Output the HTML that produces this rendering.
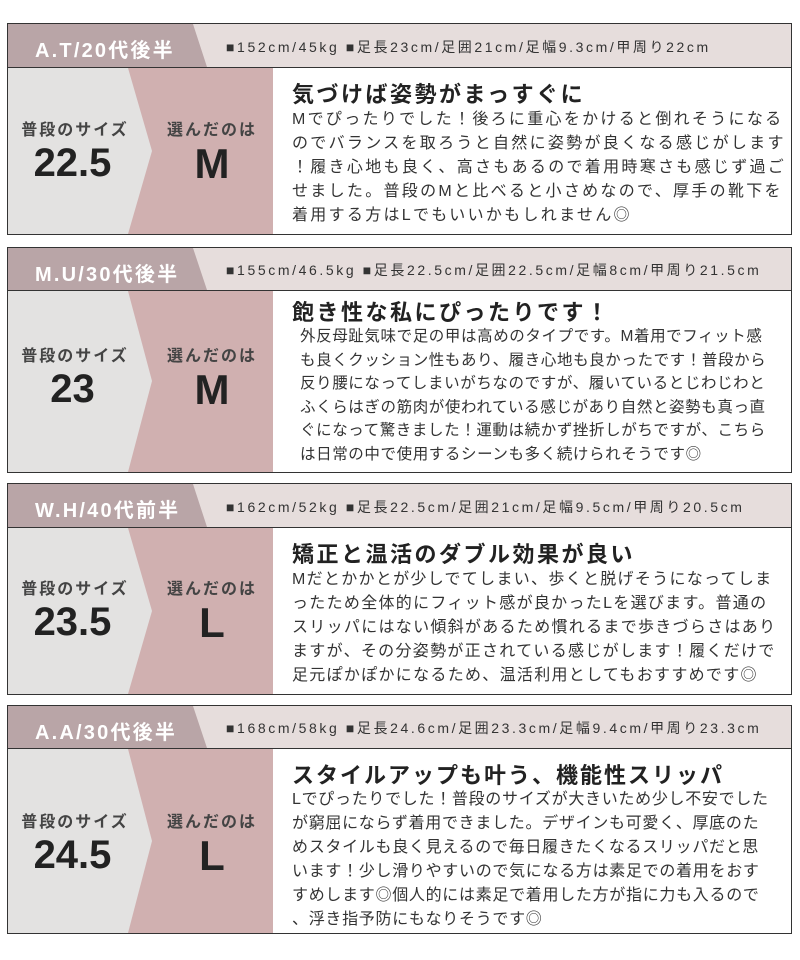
<!DOCTYPE html>
<html><head><meta charset="utf-8"><style>
body{margin:0;width:800px;height:960px;background:#fff;position:relative;overflow:hidden;font-family:"Liberation Sans","Noto Sans CJK JP",sans-serif;color:#333}
.c{position:absolute;left:0;width:800px}
.c svg{position:absolute;left:0;top:0}
.t{position:absolute;white-space:nowrap}
.tab{left:35px;color:#fff;font-weight:bold;font-size:20px;letter-spacing:2.2px}
.sp{left:226px;font-size:14px;letter-spacing:2.6px;color:#333}
.l1{font-weight:bold;font-size:16px;letter-spacing:2px;color:#444;width:150px;text-align:center;left:0}
.l2{font-weight:bold;font-size:16px;letter-spacing:2px;color:#444;width:140px;text-align:center;left:142px}
.n1{font-weight:bold;font-size:40px;color:#222;width:145px;text-align:center;left:0}
.n2{font-weight:bold;font-size:42px;color:#222;width:140px;text-align:center;left:142px}
.h{left:292px;font-weight:bold;font-size:22px;letter-spacing:2.5px;color:#222}
.b{left:292px;font-size:16px;line-height:24px;letter-spacing:2.3px;color:#333}
</style></head><body>

<!-- card 1 -->
<div class="c" style="top:23px;height:213px">
<svg width="800" height="213"><rect x="7.5" y="0.5" width="784" height="211" fill="#fff" stroke="#333"/>
<rect x="8" y="1" width="783" height="43" fill="#e6dddc"/><polygon points="8,1 193,1 207,44 8,44" fill="#b9a5a7"/>
<line x1="8" y1="44.5" x2="791" y2="44.5" stroke="#333"/>
<rect x="8" y="45" width="265" height="166" fill="#d0b0b0"/><polygon points="8,45 128,45 152,128 128,211 8,211" fill="#e3e2e1"/></svg>
<div class="t tab" style="top:11px">A.T/20代後半</div>
<div class="t sp" style="top:14px">■152cm/45kg ■足長23cm/足囲21cm/足幅9.3cm/甲周り22cm</div>
<div class="t l1" style="top:93px">普段のサイズ</div><div class="t l2" style="top:93px">選んだのは</div>
<div class="t n1" style="top:118px">22.5</div><div class="t n2" style="top:117px">M</div>
<div class="t h" style="top:54px">気づけば姿勢がまっすぐに</div>
<div class="t b" style="top:85px">Mでぴったりでした！後ろに重心をかけると倒れそうになる<br>のでバランスを取ろうと自然に姿勢が良くなる感じがします<br>！履き心地も良く、高さもあるので着用時寒さも感じず過ご<br>せました。普段のMと比べると小さめなので、厚手の靴下を<br>着用する方はLでもいいかもしれません◎</div>
</div>

<!-- card 2 -->
<div class="c" style="top:247px;height:227px">
<svg width="800" height="227"><rect x="7.5" y="0.5" width="784" height="225" fill="#fff" stroke="#333"/>
<rect x="8" y="1" width="783" height="42" fill="#e6dddc"/><polygon points="8,1 193,1 207,43 8,43" fill="#b9a5a7"/>
<line x1="8" y1="43.5" x2="791" y2="43.5" stroke="#333"/>
<rect x="8" y="44" width="265" height="181" fill="#d0b0b0"/><polygon points="8,44 128,44 152,134 128,225 8,225" fill="#e3e2e1"/></svg>
<div class="t tab" style="top:11px">M.U/30代後半</div>
<div class="t sp" style="top:13px">■155cm/46.5kg ■足長22.5cm/足囲22.5cm/足幅8cm/甲周り21.5cm</div>
<div class="t l1" style="top:95px">普段のサイズ</div><div class="t l2" style="top:95px">選んだのは</div>
<div class="t n1" style="top:120px">23</div><div class="t n2" style="top:119px">M</div>
<div class="t h" style="top:48px">飽き性な私にぴったりです！</div>
<div class="t b" style="top:78px;left:300px;font-size:15.5px;letter-spacing:0.6px;line-height:23.5px">外反母趾気味で足の甲は高めのタイプです。M着用でフィット感<br>も良くクッション性もあり、履き心地も良かったです！普段から<br>反り腰になってしまいがちなのですが、履いているとじわじわと<br>ふくらはぎの筋肉が使われている感じがあり自然と姿勢も真っ直<br>ぐになって驚きました！運動は続かず挫折しがちですが、こちら<br>は日常の中で使用するシーンも多く続けられそうです◎</div>
</div>

<!-- card 3 -->
<div class="c" style="top:483px;height:213px">
<svg width="800" height="213"><rect x="7.5" y="0.5" width="784" height="211" fill="#fff" stroke="#333"/>
<rect x="8" y="1" width="783" height="43" fill="#e6dddc"/><polygon points="8,1 193,1 207,44 8,44" fill="#b9a5a7"/>
<line x1="8" y1="44.5" x2="791" y2="44.5" stroke="#333"/>
<rect x="8" y="45" width="265" height="166" fill="#d0b0b0"/><polygon points="8,45 128,45 152,128 128,211 8,211" fill="#e3e2e1"/></svg>
<div class="t tab" style="top:11px">W.H/40代前半</div>
<div class="t sp" style="top:14px">■162cm/52kg ■足長22.5cm/足囲21cm/足幅9.5cm/甲周り20.5cm</div>
<div class="t l1" style="top:92px">普段のサイズ</div><div class="t l2" style="top:92px">選んだのは</div>
<div class="t n1" style="top:117px">23.5</div><div class="t n2" style="top:116px">L</div>
<div class="t h" style="top:54px">矯正と温活のダブル効果が良い</div>
<div class="t b" style="top:85px;letter-spacing:1.3px">Mだとかかとが少しでてしまい、歩くと脱げそうになってしま<br>ったため全体的にフィット感が良かったLを選びます。普通の<br>スリッパにはない傾斜があるため慣れるまで歩きづらさはあり<br>ますが、その分姿勢が正されている感じがします！履くだけで<br>足元ぽかぽかになるため、温活利用としてもおすすめです◎</div>
</div>

<!-- card 4 -->
<div class="c" style="top:705px;height:230px">
<svg width="800" height="230"><rect x="7.5" y="0.5" width="784" height="228" fill="#fff" stroke="#333"/>
<rect x="8" y="1" width="783" height="42" fill="#e6dddc"/><polygon points="8,1 193,1 207,43 8,43" fill="#b9a5a7"/>
<line x1="8" y1="43.5" x2="791" y2="43.5" stroke="#333"/>
<rect x="8" y="44" width="265" height="184" fill="#d0b0b0"/><polygon points="8,44 128,44 152,136 128,228 8,228" fill="#e3e2e1"/></svg>
<div class="t tab" style="top:11px">A.A/30代後半</div>
<div class="t sp" style="top:13px">■168cm/58kg ■足長24.6cm/足囲23.3cm/足幅9.4cm/甲周り23.3cm</div>
<div class="t l1" style="top:103px">普段のサイズ</div><div class="t l2" style="top:103px">選んだのは</div>
<div class="t n1" style="top:128px">24.5</div><div class="t n2" style="top:127px">L</div>
<div class="t h" style="top:53px;letter-spacing:2px">スタイルアップも叶う、機能性スリッパ</div>
<div class="t b" style="top:83px;letter-spacing:0.7px">Lでぴったりでした！普段のサイズが大きいため少し不安でした<br>が窮屈にならず着用できました。デザインも可愛く、厚底のた<br>めスタイルも良く見えるので毎日履きたくなるスリッパだと思<br>います！少し滑りやすいので気になる方は素足での着用をおす<br>すめします◎個人的には素足で着用した方が指に力も入るので<br>、浮き指予防にもなりそうです◎</div>
</div>

</body></html>
